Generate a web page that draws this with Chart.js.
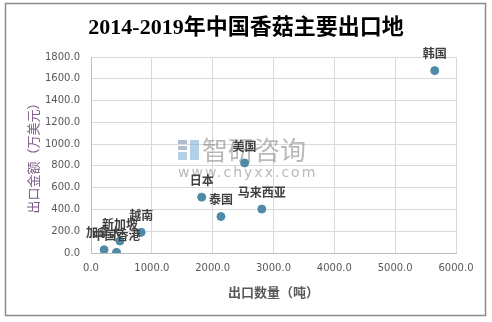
<!DOCTYPE html>
<html>
<head>
<meta charset="utf-8">
<script src="https://cdn.jsdelivr.net/npm/chart.js@4"></script>
<style>
  html, body { margin: 0; padding: 0; background: #fff; }
  #wrap { width: 492px; height: 322px; position: relative; }
</style>
</head>
<body>
<div id="wrap"><canvas id="myChart"></canvas></div>
<script>
// data
const countries = ['韩国', '美国', '日本', '泰国', '马来西亚', '越南', '新加坡', '加拿大', '中国香港'];
const exportTons = [5650, 2525, 1820, 2136, 2808, 825, 475, 215, 420];
const exportValue = [1675, 827, 513, 335, 403, 190, 110, 30, 5];
const xTicks = [0, 1000, 2000, 3000, 4000, 5000, 6000];
const yTicks = [0, 200, 400, 600, 800, 1000, 1200, 1400, 1600, 1800];

const chartTitle = '2014-2019年中国香菇主要出口地';
const xTitle = '出口数量（吨）';
const yTitle = '出口金额（万美元）';

const cjk = '"Noto Sans CJK SC", "DejaVu Sans", sans-serif';

// frame, title, axis titles, watermark, point labels
const decoPlugin = {
  id: 'deco',
  beforeDraw(chart) {
    const c = chart.ctx;
    c.save();
    c.fillStyle = '#fff';
    c.fillRect(0, 0, chart.width, chart.height);
    c.strokeStyle = '#8c8c8c';
    c.lineWidth = 1.5;
    c.strokeRect(5.5, 3.5, 480, 312);
    c.restore();
  },
  beforeDatasetsDraw(chart) {
    const c = chart.ctx;
    c.save();
    c.globalAlpha = 0.6;
    // little logo blocks
    c.fillStyle = '#7f8fb5';
    c.fillRect(178, 140, 9, 4);
    c.fillRect(178, 146, 9, 4);
    c.fillStyle = '#7fb3d8';
    c.fillRect(178, 152, 9, 8);
    c.fillRect(190, 140, 9, 20);
    c.fillStyle = '#8a8a8a';
    c.font = '26px ' + cjk;
    c.textBaseline = 'middle';
    c.textAlign = 'left';
    c.fillText('智研咨询', 202, 150);
    c.font = '14px "DejaVu Sans", sans-serif';
    c.letterSpacing = '2px';
    c.fillText('www.chyxx.com', 178, 173);
    c.restore();
  },
  afterDraw(chart) {
    const c = chart.ctx;
    const area = chart.chartArea;
    c.save();
    c.textAlign = 'center';
    c.textBaseline = 'middle';
    c.fillStyle = '#000';
    c.font = 'bold 22px "Liberation Serif", "Noto Sans CJK SC", serif';
    c.fillText(chartTitle, 246, 28);

    c.fillStyle = '#595959';
    c.font = 'bold 13px ' + cjk;
    c.fillText(xTitle, (area.left + area.right) / 2, 292);

    c.save();
    c.translate(33, (area.top + area.bottom) / 2);
    c.rotate(-Math.PI / 2);
    c.fillStyle = '#7e5b87';
    c.font = '13px ' + cjk;
    c.fillText(yTitle, 0, 0);
    c.restore();

    // labels above each point
    const meta = chart.getDatasetMeta(0);
    c.fillStyle = '#404040';
    c.font = 'bold 12px ' + cjk;
    meta.data.forEach(function (pt, i) {
      c.fillText(countries[i], pt.x, pt.y - 17);
    });
    c.restore();
  }
};

const points = exportTons.map(function (t, i) { return { x: t, y: exportValue[i] }; });

new Chart(document.getElementById('myChart'), {
  type: 'scatter',
  data: {
    datasets: [{
      label: '出口地',
      data: points,
      backgroundColor: '#4f8aa6',
      borderColor: '#4f8aa6',
      pointRadius: 4,
      pointHoverRadius: 4
    }]
  },
  options: {
    responsive: true,
    maintainAspectRatio: false,
    animation: false,
    layout: { padding: { top: 57, right: 36, bottom: 0, left: 0 } },
    plugins: {
      legend: { display: false },
      tooltip: { enabled: false },
      title: { display: false }
    },
    scales: {
      x: {
        type: 'linear',
        min: 0,
        max: 6000,
        afterBuildTicks(scale) { scale.ticks = xTicks.map(function (v) { return { value: v }; }); },
        afterFit(scale) { scale.height = 69; },
        ticks: {
          padding: 9,
          color: '#595959',
          font: { family: '"DejaVu Sans", sans-serif', size: 10 },
          callback: function (v) { return Number(v).toFixed(1); }
        },
        grid: { color: '#d9d9d9', drawTicks: false },
        border: { color: '#bfbfbf' }
      },
      y: {
        type: 'linear',
        min: 0,
        max: 1800,
        afterBuildTicks(scale) { scale.ticks = yTicks.map(function (v) { return { value: v }; }); },
        afterFit(scale) { scale.width = 91; },
        ticks: {
          padding: 11,
          color: '#595959',
          font: { family: '"DejaVu Sans", sans-serif', size: 10 },
          callback: function (v) { return Number(v).toFixed(1); }
        },
        grid: { color: '#d9d9d9', drawTicks: false },
        border: { color: '#bfbfbf' }
      }
    }
  },
  plugins: [decoPlugin]
});
</script>
</body>
</html>
